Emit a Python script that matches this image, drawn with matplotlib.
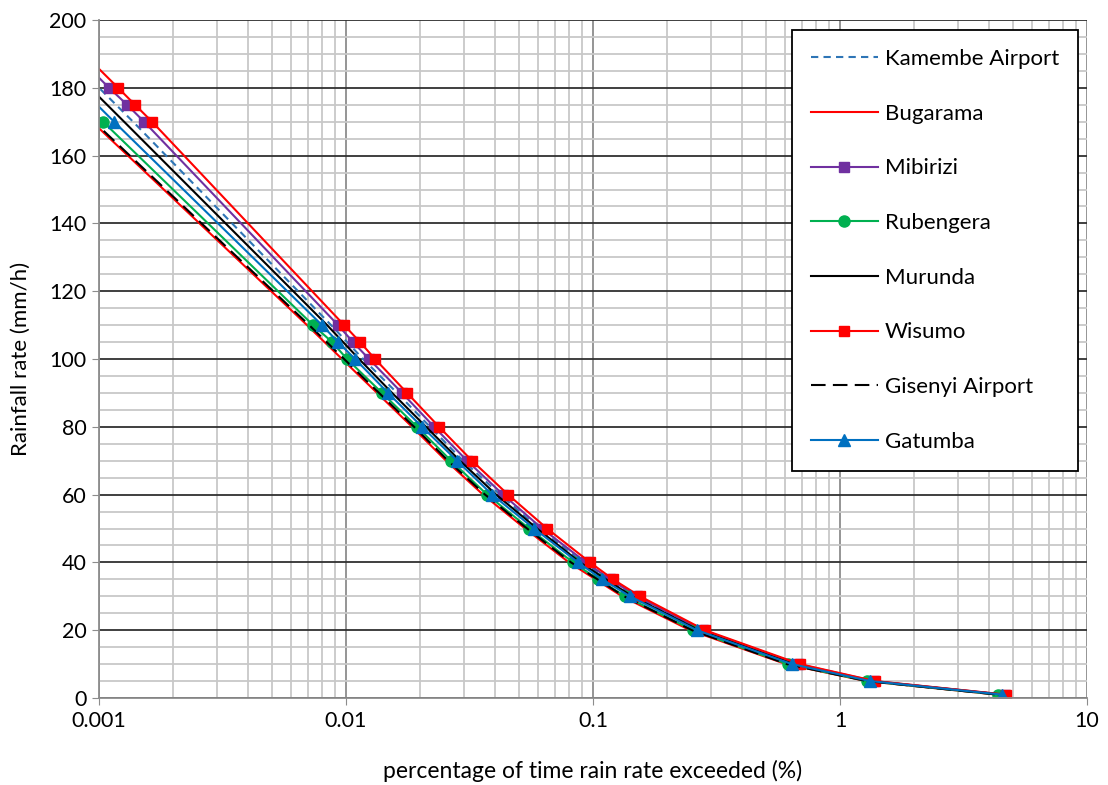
import matplotlib
matplotlib.use('Agg')
import matplotlib.pyplot as plt
from matplotlib.ticker import FixedLocator, MultipleLocator, FuncFormatter, LogLocator

plt.rcParams['font.family'] = ['Lato', 'DejaVu Sans']

# rain rates (mm/h) and percentage of time exceeded for each station
rates_full = [190, 180, 175, 170, 110, 105, 100, 90, 80, 70, 60, 50, 40, 35, 30, 20, 10, 5, 1]
rates_low = [190, 170, 110, 105, 100, 90, 80, 70, 60, 50, 40, 35, 30, 20, 10, 5, 1]
rates_line = [190, 170, 110, 100, 90, 80, 70, 60, 50, 40, 30, 20, 10, 5, 1]

kamembe = [0.000728, 0.001373, 0.00870, 0.01172, 0.01609, 0.02188, 0.02976, 0.04202,
           0.06045, 0.09112, 0.1466, 0.2737, 0.6637, 1.348, 4.613]
bugarama = [0.000497, 0.000937, 0.00695, 0.00963, 0.01335, 0.01850, 0.02540, 0.03586,
            0.05305, 0.07993, 0.1311, 0.2470, 0.6044, 1.274, 4.322]
mibirizi = [0.000799, 0.001098, 0.001299, 0.001522, 0.00928, 0.01067, 0.01239, 0.01685,
            0.02272, 0.03090, 0.04321, 0.06216, 0.09369, 0.1172, 0.1507, 0.2788, 0.6761,
            1.373, 4.656]
rubengera = [0.000551, 0.001038, 0.00735, 0.00878, 0.01009, 0.01398, 0.01938, 0.02661,
             0.03723, 0.05507, 0.08299, 0.1048, 0.1348, 0.2541, 0.6160, 1.286, 4.363]
murunda = [0.000670, 0.001263, 0.00838, 0.01129, 0.01536, 0.02108, 0.02893, 0.04050,
           0.05934, 0.08859, 0.1438, 0.2686, 0.6514, 1.335, 4.571]
wisumo = [0.000869, 0.001194, 0.001398, 0.001639, 0.00982, 0.01139, 0.01310, 0.01766,
          0.02379, 0.03236, 0.04528, 0.06514, 0.09725, 0.1205, 0.1550, 0.2841, 0.6887,
          1.386, 4.699]
gisenyi = [0.000506, 0.000954, 0.00709, 0.00982, 0.01360, 0.01885, 0.02588, 0.03654,
           0.05405, 0.08143, 0.1335, 0.2517, 0.6101, 1.286, 4.363]
gatumba = [0.000610, 0.001150, 0.00799, 0.00928, 0.01088, 0.01479, 0.02031, 0.02814,
           0.03901, 0.05770, 0.08696, 0.1088, 0.1412, 0.2637, 0.6392, 1.323, 4.529]

x_ticks = [0.001, 0.01, 0.1, 1, 10]
x_labels = ['0.001', '0.01', '0.1', '1', '10']

fig = plt.figure(figsize=(11.08, 7.85), dpi=100)
ax = fig.add_axes([0.0894, 0.1108, 0.8917, 0.8637])

ax.plot(kamembe, rates_line, color='#2E75B6', lw=1.5, dashes=(3.5, 2.5), label='Kamembe Airport')
ax.plot(bugarama, rates_line, color='#FF0000', lw=1.5, label='Bugarama')
ax.plot(mibirizi, rates_full, color='#7030A0', lw=1.5, marker='s', ms=7, label='Mibirizi')
ax.plot(rubengera, rates_low, color='#00B050', lw=1.5, marker='o', ms=8, label='Rubengera')
ax.plot(murunda, rates_line, color='black', lw=1.5, label='Murunda')
ax.plot(wisumo, rates_full, color='#FF0000', lw=1.5, marker='s', ms=7, label='Wisumo')
ax.plot(gisenyi, rates_line, color='black', lw=1.5, dashes=(7, 3.5), label='Gisenyi Airport')
ax.plot(gatumba, rates_low, color='#0070C0', lw=1.5, marker='^', ms=9, label='Gatumba')

ax.set_xscale('log')
ax.set_xlim(0.001, 10)
ax.set_ylim(0, 200)

ax.xaxis.set_major_locator(FixedLocator(x_ticks))
ax.xaxis.set_major_formatter(FuncFormatter(lambda v, p: x_labels[x_ticks.index(v)] if v in x_ticks else ''))
ax.xaxis.set_minor_locator(LogLocator(base=10, subs=range(2, 10), numticks=20))
ax.xaxis.set_minor_formatter(FuncFormatter(lambda v, p: ''))
ax.yaxis.set_major_locator(MultipleLocator(20))
ax.yaxis.set_minor_locator(MultipleLocator(5))

ax.grid(True, which='minor', axis='both', color='#C8C8C8', lw=1.3, zorder=0)
ax.grid(True, which='major', axis='x', color='#8C8C8C', lw=1.3, zorder=0)
ax.grid(True, which='major', axis='y', color='#303030', lw=1.3, zorder=0)
ax.set_axisbelow(True)

for s in ['top', 'right']:
    ax.spines[s].set_visible(False)
ax.spines['left'].set_color('#8C8C8C')
ax.spines['bottom'].set_color('#8C8C8C')
ax.spines['left'].set_linewidth(1.3)
ax.spines['bottom'].set_linewidth(1.3)

ax.tick_params(which='major', length=5, color='#8C8C8C', labelsize=15.5, pad=4)
ax.tick_params(which='minor', length=0)

ax.set_xlabel('percentage of time rain rate exceeded (%)', fontsize=16.5, labelpad=21)
ax.set_ylabel('Rainfall rate (mm/h)', fontsize=16, labelpad=13)

leg = ax.legend(loc='upper right', bbox_to_anchor=(0.991, 0.985), borderaxespad=0,
                fontsize=16, handlelength=3.05, handletextpad=0.3, labelspacing=1.56,
                borderpad=0.85, fancybox=False, framealpha=1, edgecolor='black')
leg.get_frame().set_linewidth(1.3)

fig.savefig('out.png', dpi=100)
